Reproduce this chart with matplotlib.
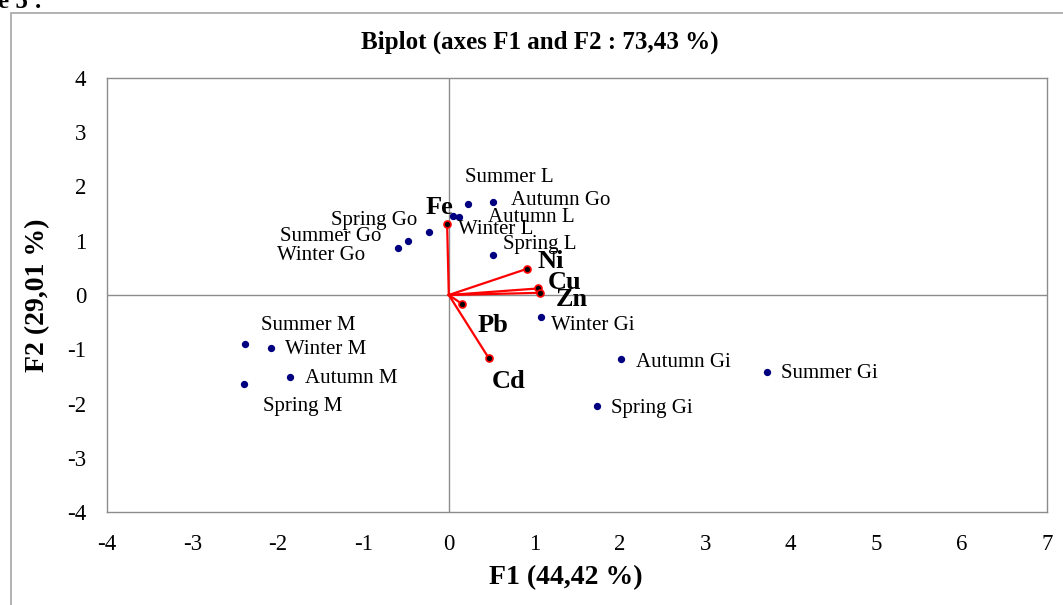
import matplotlib
matplotlib.use("Agg")
import matplotlib.pyplot as plt
from matplotlib.patches import Rectangle

plt.rcParams['font.family'] = ['Liberation Serif', 'DejaVu Serif']
plt.rcParams['axes.unicode_minus'] = False

# observations (F1, F2)
obs_names = ["Summer L", "Autumn Go", "Autumn L", "Winter L", "Spring Go", "Summer Go",
             "Winter Go", "Spring L", "Winter Gi", "Autumn Gi", "Summer Gi", "Spring Gi",
             "Summer M", "Winter M", "Autumn M", "Spring M"]
obs_f1 = [0.23, 0.52, 0.12, 0.05, -0.23, -0.48, -0.60, 0.52, 1.08, 2.02, 3.72, 1.73,
          -2.39, -2.08, -1.86, -2.40]
obs_f2 = [1.68, 1.71, 1.44, 1.46, 1.16, 1.00, 0.87, 0.74, -0.41, -1.18, -1.42, -2.05,
          -0.90, -0.98, -1.51, -1.64]

# variables (loadings)
var_names = ["Fe", "Ni", "Cu", "Zn", "Pb", "Cd"]
var_f1 = [-0.02, 0.91, 1.04, 1.07, 0.16, 0.47]
var_f2 = [1.31, 0.48, 0.12, 0.04, -0.17, -1.17]

# label offsets in pixels (dx, dy, ha)
obs_off = [(-3, 26, 'left'), (18, 2, 'left'), (29, -1, 'left'), (5, -14, 'left'),
           (-12, 12, 'right'), (-26, 4, 'right'), (-32, -8, 'right'), (10, 10, 'left'),
           (10, -8, 'left'), (15, -3, 'left'), (14, -1, 'left'), (14, -2, 'left'),
           (16, 18, 'left'), (14, -1, 'left'), (15, -2, 'left'), (19, -23, 'left')]
var_off = [(-22, 16), (11, 7), (10, 6), (15, -7), (15, -21), (3, -23)]

W, H = 1063, 605
fig = plt.figure(figsize=(W / 100, H / 100), dpi=100)
fig.patches.append(Rectangle((11 / W, -0.1), 1.2, 1 - 13 / H + 0.1, transform=fig.transFigure,
                             fill=False, edgecolor='#a6a6a6', linewidth=1.2))
fig.text(-2 / W, 1 - 8 / H, "e 5 :", fontsize=18, fontweight='bold', va='baseline', ha='left')

ax = fig.add_axes([107 / W, 1 - 512 / H, (1047 - 107) / W, (512 - 78) / H])
ax.set_xlim(-4, 7)
ax.set_ylim(-4, 4)
ax.set_xticks(range(-4, 8))
ax.set_yticks(range(-4, 5))
ax.tick_params(length=0, labelsize=16.5)
ax.tick_params(axis='x', pad=16)
ax.tick_params(axis='y', pad=15)
for s in ax.spines.values():
    s.set_color('#8c8c8c')
    s.set_linewidth(1)
ax.axhline(0, color='#8c8c8c', linewidth=1, zorder=1)
ax.axvline(0, color='#8c8c8c', linewidth=1, zorder=1)

ax.scatter(obs_f1, obs_f2, s=18, color='#000080', zorder=3)
for name, x, y, (dx, dy, ha) in zip(obs_names, obs_f1, obs_f2, obs_off):
    ax.annotate(name, (x, y), xytext=(dx, dy), textcoords='offset pixels',
                fontsize=15, ha=ha, va='center')

for name, x, y, (dx, dy) in zip(var_names, var_f1, var_f2, var_off):
    ax.plot([0, x], [0, y], color='red', linewidth=1.6, zorder=2)
    ax.plot(x, y, 'o', markersize=5, markerfacecolor='black', markeredgecolor='red',
            markeredgewidth=1.2, zorder=4)
    ax.annotate(name, (x, y), xytext=(dx, dy), textcoords='offset pixels',
                fontsize=19, fontweight='bold', ha='left', va='center')

fig.text(540 / W, 1 - 42 / H, "Biplot (axes F1 and F2 : 73,43 %)", fontsize=18,
         fontweight='bold', ha='center', va='center')
fig.text(566 / W, 1 - 578 / H, "F1 (44,42 %)", fontsize=20, fontweight='bold',
         ha='center', va='center')
fig.text(38 / W, 1 - 295 / H, "F2 (29,01 %)", fontsize=20, fontweight='bold',
         ha='center', va='center', rotation=90)

fig.savefig("out.png", dpi=100)
